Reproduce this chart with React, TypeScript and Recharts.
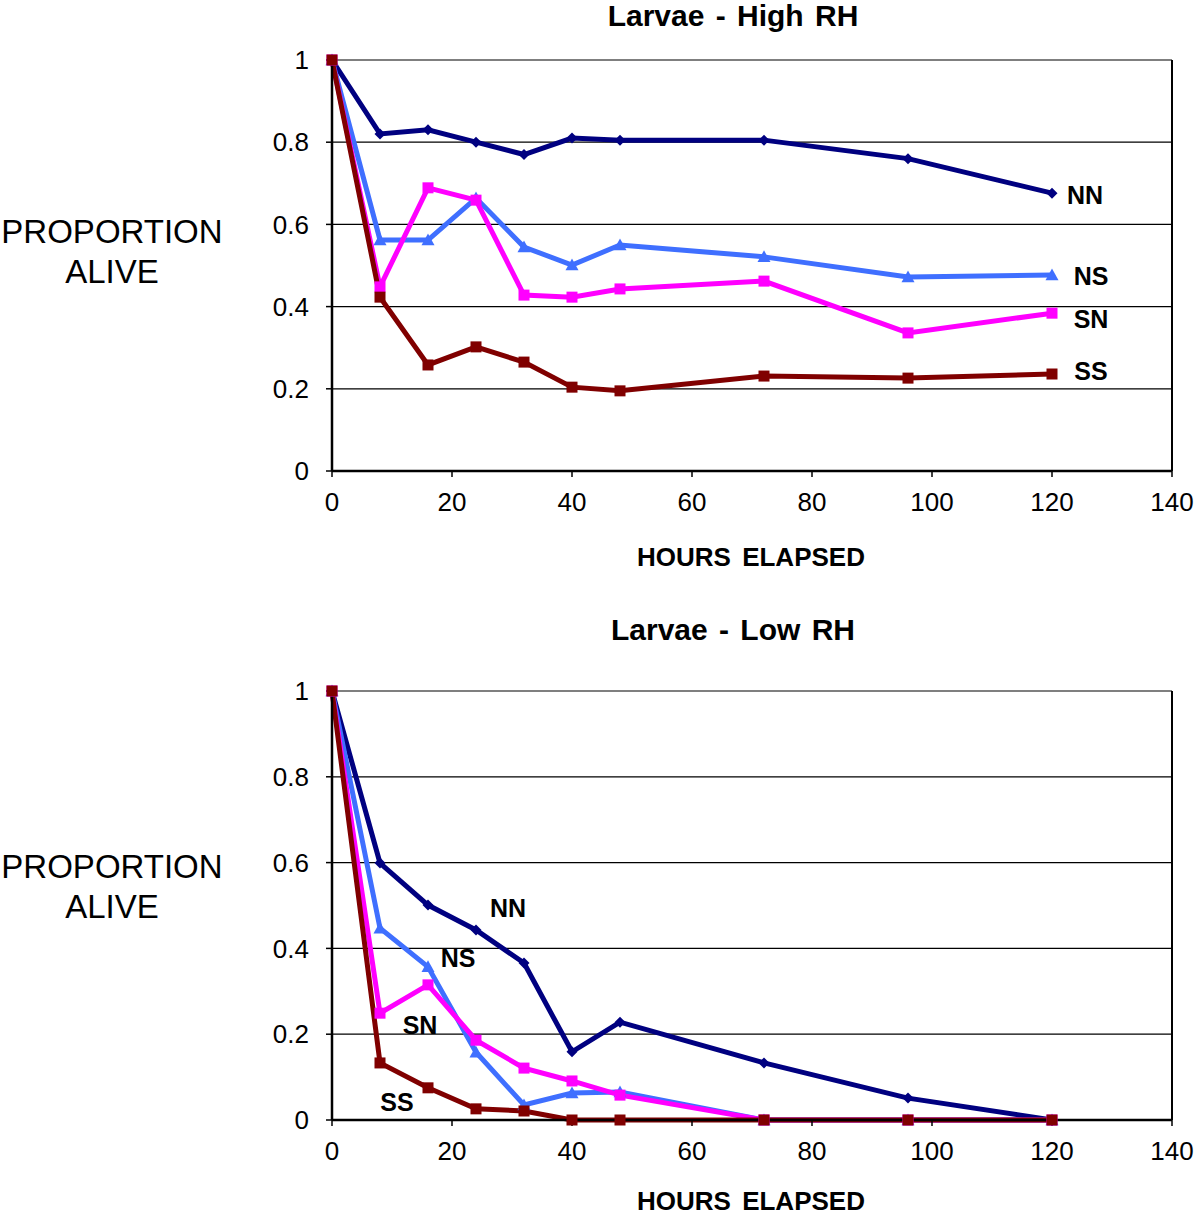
import { CartesianGrid, Line, LineChart, ReferenceLine, XAxis, YAxis } from "recharts";

const hours = [0, 8, 16, 24, 32, 40, 48, 72, 96, 120];
const xTicks = [0, 20, 40, 60, 80, 100, 120, 140];
const yTicks = [0, 0.2, 0.4, 0.6, 0.8, 1];

const highNN = [1, 0.82, 0.83, 0.8, 0.77, 0.81, 0.805, 0.805, 0.76, 0.676];
const highNS = [1, 0.562, 0.562, 0.664, 0.545, 0.501, 0.55, 0.521, 0.472, 0.477];
const highSN = [1, 0.448, 0.689, 0.659, 0.428, 0.423, 0.443, 0.462, 0.336, 0.384];
const highSS = [1, 0.423, 0.258, 0.302, 0.265, 0.204, 0.195, 0.231, 0.226, 0.236];

const lowNN = [1, 0.599, 0.501, 0.443, 0.366, 0.159, 0.228, 0.133, 0.051, 0];
const lowNS = [1, 0.447, 0.357, 0.158, 0.035, 0.063, 0.065, 0, 0, 0];
const lowSN = [1, 0.249, 0.315, 0.186, 0.121, 0.091, 0.058, 0, 0, 0];
const lowSS = [1, 0.133, 0.075, 0.026, 0.021, 0, 0, 0, 0, 0];

const FONT = "'Liberation Sans', Arial, sans-serif";

const series = [
  { key: "NN", color: "#000080", shape: "diamond" },
  { key: "NS", color: "#3f6fff", shape: "triangle" },
  { key: "SN", color: "#ff00ff", shape: "square" },
  { key: "SS", color: "#800000", shape: "square" },
];

function makeRows(nn: number[], ns: number[], sn: number[], ss: number[]) {
  return hours.map((h, i) => ({ h, NN: nn[i], NS: ns[i], SN: sn[i], SS: ss[i] }));
}

const highRows = makeRows(highNN, highNS, highSN, highSS);
const lowRows = makeRows(lowNN, lowNS, lowSN, lowSS);

function marker(shape: string, color: string) {
  return (props: any) => {
    const { cx, cy, index } = props;
    if (cx == null || cy == null) return <g key={index} />;
    if (shape === "diamond") {
      const r = 5.5;
      return (
        <path key={index} d={`M${cx},${cy - r}L${cx + r},${cy}L${cx},${cy + r}L${cx - r},${cy}Z`} fill={color} />
      );
    }
    if (shape === "triangle") {
      const r = 6.5;
      return (
        <path key={index} d={`M${cx},${cy - r}L${cx + r},${cy + r * 0.8}L${cx - r},${cy + r * 0.8}Z`} fill={color} />
      );
    }
    return <rect key={index} x={cx - 5.5} y={cy - 5.5} width={11} height={11} fill={color} />;
  };
}

interface PanelProps {
  top: number;
  height: number;
  title: string;
  titleY: number;
  rows: any[];
  margin: { top: number; right: number; bottom: number; left: number };
  axisTitleY: number;
  yLabelY: number;
  labels: { text: string; x: number; y: number }[];
}

function Panel({ top, height, title, titleY, rows, margin, axisTitleY, yLabelY, labels }: PanelProps) {
  return (
    <div style={{ position: "absolute", left: 0, top, width: 1200, height, fontFamily: FONT }}>
      <div
        style={{
          position: "absolute",
          left: 0,
          width: 1200,
          top: titleY - 15,
          textAlign: "center",
          paddingLeft: 266,
          boxSizing: "border-box",
          fontSize: 30,
          fontWeight: "bold",
          lineHeight: "30px",
          wordSpacing: 3,
        }}
      >
        {title}
      </div>
      <div
        style={{
          position: "absolute",
          left: 0,
          width: 224,
          top: yLabelY,
          textAlign: "center",
          fontSize: 33,
          lineHeight: "40px",
        }}
      >
        PROPORTION
        <br />
        ALIVE
      </div>
      <LineChart width={1200} height={height} data={rows} margin={margin}>
        <CartesianGrid vertical={false} stroke="#000" strokeWidth={1.2} />
        <XAxis
          dataKey="h"
          type="number"
          domain={[0, 140]}
          ticks={xTicks}
          height={40}
          tickSize={6}
          tickMargin={16}
          axisLine={{ stroke: "#000", strokeWidth: 2.5 }}
          tickLine={{ stroke: "#000", strokeWidth: 1.5 }}
          tick={{ fill: "#000", fontSize: 26, fontFamily: FONT }}
        />
        <YAxis
          type="number"
          domain={[0, 1]}
          ticks={yTicks}
          width={60}
          tickSize={6}
          tickMargin={17}
          axisLine={{ stroke: "#000", strokeWidth: 2.5 }}
          tickLine={{ stroke: "#000", strokeWidth: 1.5 }}
          tick={{ fill: "#000", fontSize: 26, fontFamily: FONT }}
        />
        <ReferenceLine x={140} stroke="#000" strokeWidth={2} />
        {series.map((s) => (
          <Line
            key={s.key}
            dataKey={s.key}
            stroke={s.color}
            strokeWidth={5}
            dot={marker(s.shape, s.color)}
            activeDot={false}
            isAnimationActive={false}
          />
        ))}
      </LineChart>
      <div
        style={{
          position: "absolute",
          left: 551,
          width: 400,
          top: axisTitleY - 11,
          textAlign: "center",
          fontSize: 26,
          fontWeight: "bold",
          lineHeight: "22px",
          wordSpacing: 4,
        }}
      >
        HOURS ELAPSED
      </div>
      {labels.map((l) => (
        <div
          key={l.text}
          style={{
            position: "absolute",
            left: l.x - 40,
            width: 80,
            top: l.y - 15,
            textAlign: "center",
            fontSize: 25,
            fontWeight: "bold",
            lineHeight: "30px",
          }}
        >
          {l.text}
        </div>
      ))}
    </div>
  );
}

export default function App() {
  return (
    <div style={{ position: "absolute", left: 0, top: 0, width: 1200, height: 1216, background: "#fff", overflow: "hidden" }}>
      <Panel
        top={0}
        height={600}
        title="Larvae - High RH"
        titleY={16}
        rows={highRows}
        margin={{ top: 60, right: 28, bottom: 89, left: 272 }}
        axisTitleY={557}
        yLabelY={212}
        labels={[
          { text: "NN", x: 1085, y: 195 },
          { text: "NS", x: 1091, y: 276 },
          { text: "SN", x: 1091, y: 319 },
          { text: "SS", x: 1091, y: 371 },
        ]}
      />
      <Panel
        top={600}
        height={616}
        title="Larvae - Low RH"
        titleY={30}
        rows={lowRows}
        margin={{ top: 91, right: 28, bottom: 56, left: 272 }}
        axisTitleY={601}
        yLabelY={247}
        labels={[
          { text: "NN", x: 508, y: 308 },
          { text: "NS", x: 458, y: 358 },
          { text: "SN", x: 420, y: 425 },
          { text: "SS", x: 397, y: 502 },
        ]}
      />
    </div>
  );
}
